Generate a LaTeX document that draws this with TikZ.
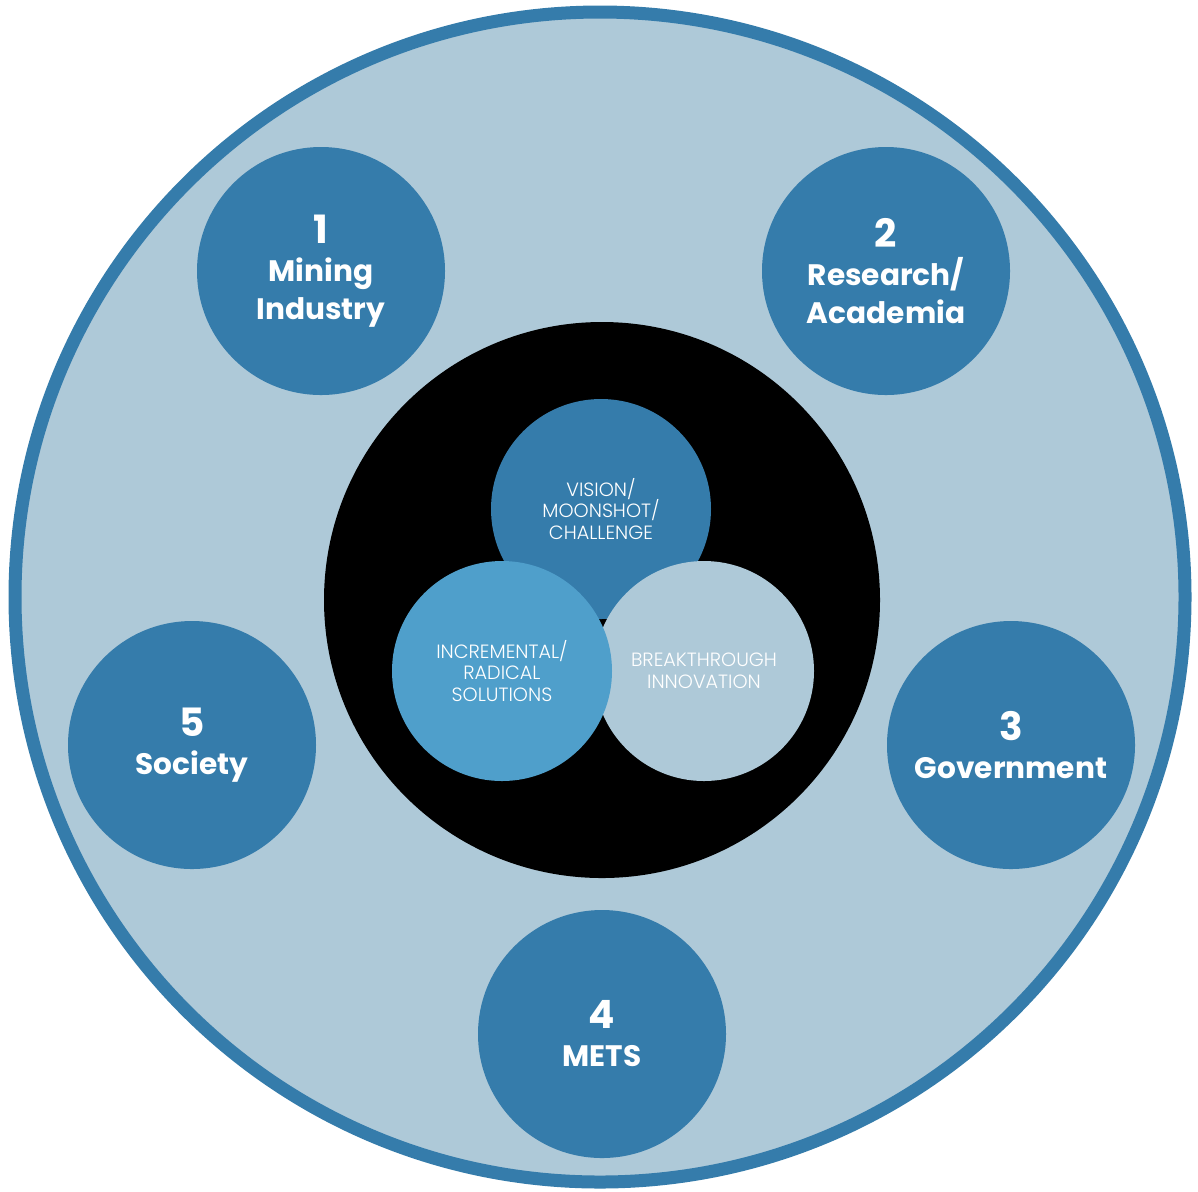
\documentclass[tikz,border=0pt]{standalone}
\usepackage{fontspec}
\setmainfont{Poppins}
\newfontfamily\thinfont{Poppins Light}

\definecolor{hub}{HTML}{357CAB}
\definecolor{pale}{HTML}{AEC9D8}
\definecolor{mid}{HTML}{4F9FCB}

\newcommand{\bignum}[1]{{\fontsize{19.5}{20}\selectfont #1}}

\begin{document}
\begin{tikzpicture}[x=0.5pt,y=-0.5pt]
\tikzstyle{every node}+=[inner sep=0pt]
\tikzstyle{group}=[circle,fill=hub,minimum size=124pt,text=white,align=center,
  font=\fontsize{14.8}{19}\selectfont\bfseries]
\tikzstyle{idea}=[circle,minimum size=110pt,text=white,align=center,
  font=\thinfont\fontsize{9.6}{10.8}\selectfont]
\useasboundingbox (0,0) rectangle (1198,1191);
% outer ring and core
\draw [hub,line width=6.5pt,fill=pale] (600,597) circle (292.5pt);
\fill [black] (602,600) circle (139pt);
% the five groups
\node [group] (mining) at (321,271) {\bignum{1}\\Mining\\Industry};
\node [group] (research) at (886,271) {\bignum{2}\\Research/\\Academia};
\node [group] (government) at (1011,745) {\bignum{3}\\Government};
\node [group] (mets) at (602,1034) {\bignum{4}\\METS};
\node [group] (society) at (192,745) {\bignum{5}\\Society};
% the three ideas
\node [idea,fill=hub] (vision) at (601,509) {VISION/\\MOONSHOT/\\CHALLENGE};
\node [idea,fill=pale] (breakthrough) at (704,671) {BREAKTHROUGH\\INNOVATION};
\node [idea,fill=mid] (incremental) at (502,671) {INCREMENTAL/\\RADICAL\\SOLUTIONS};
\end{tikzpicture}
\end{document}
